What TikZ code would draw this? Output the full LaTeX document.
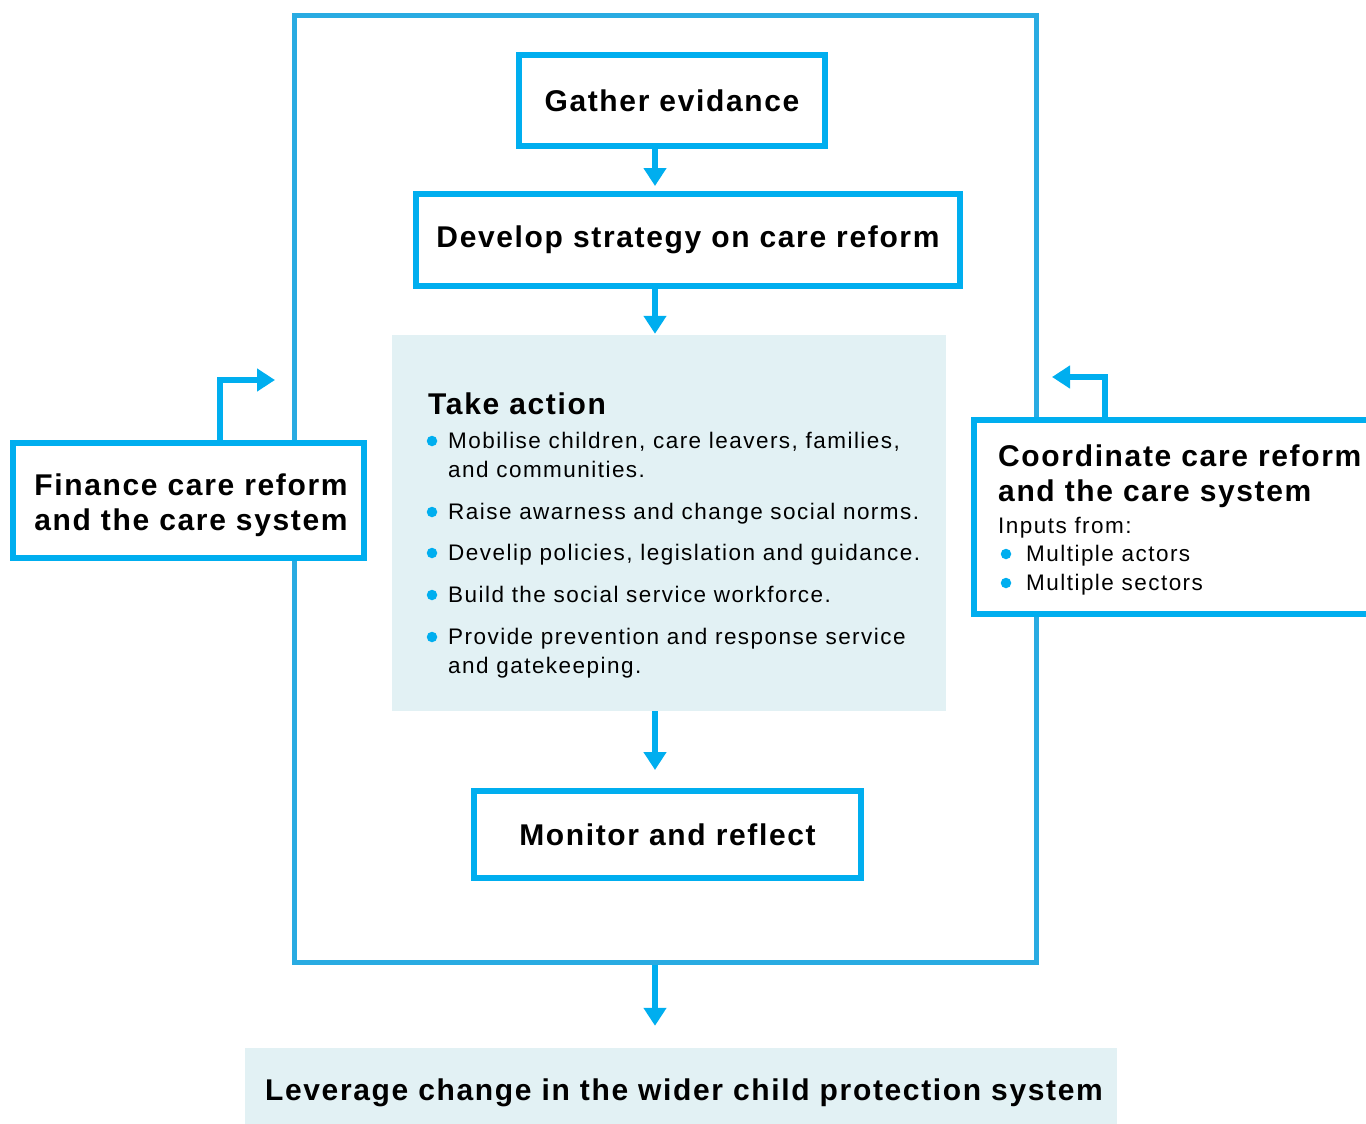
\documentclass[tikz,border=0pt]{standalone}
\usepackage{fontspec}
\setmainfont{Liberation Sans}
\newfontfamily\headfont[LetterSpace=5.5]{Liberation Sans}
\newfontfamily\bodyfont[LetterSpace=6.5]{Liberation Sans}
\usetikzlibrary{arrows.meta}
\definecolor{cyanbox}{HTML}{00AEEF}
\definecolor{framec}{HTML}{29ABE2}
\definecolor{panel}{HTML}{E2F1F4}
\tikzset{
  boxnode/.style={draw=cyanbox, line width=6pt, fill=white, inner sep=0pt, align=center,
    font=\headfont\bfseries\fontsize{30}{35}\selectfont},
  panelnode/.style={fill=panel, inner sep=0pt, align=center,
    font=\headfont\bfseries\fontsize{30}{35}\selectfont},
  headtext/.style={inner sep=0pt, anchor=base west, align=left,
    font=\headfont\bfseries\fontsize{30}{35}\selectfont},
  bodytext/.style={inner sep=0pt, anchor=base west, align=left,
    font=\bodyfont\fontsize{22.5}{29}\selectfont},
  bulletdot/.style={circle, fill=cyanbox, inner sep=0pt, minimum size=10.5pt},
  arr/.style={draw=cyanbox, line width=6pt, -{Triangle[length=18pt,width=22pt]}},
}
\begin{document}
\begin{tikzpicture}[x=1pt,y=-1pt]
\useasboundingbox (0,0) rectangle (1366,1124);
\clip (0,0) rectangle (1366,1124);

% outer frame
\node[draw=framec, line width=5pt, inner sep=0pt, minimum width=742pt, minimum height=946pt] (frame) at (665,489) {};

% main boxes
\node[boxnode, minimum width=306pt, minimum height=91pt] (gather) at (672,100.5) {Gather evidance};
\node[boxnode, minimum width=544pt, minimum height=92pt] (develop) at (688,240) {Develop strategy on care reform};
\node[panelnode, minimum width=554pt, minimum height=376pt] (action) at (669,523) {};
\node[boxnode, minimum width=387pt, minimum height=87pt] (monitor) at (667.5,834.5) {Monitor and reflect};
\node[panelnode, minimum width=872pt, minimum height=76pt] (leverage) at (681,1086) {};
\node[headtext, anchor=base, align=center] (levtext) at (684,1100) {Leverage change in the wider child protection system};

% side boxes
\node[boxnode, minimum width=351pt, minimum height=115pt] (finance) at (188.5,500.5) {};
\node[headtext, anchor=base, align=center] (fintext) at (191,530) {Finance care reform\\and the care system};
\node[boxnode, minimum width=440pt, minimum height=194pt] (coord) at (1194,517) {};

% take action text
\node[headtext] (tatitle) at (428,414) {Take action};
\node[bulletdot] (b1) at (432,441) {};
\node[bodytext] (t1) at (448,477) {Mobilise children, care leavers, families,\\and communities.};
\node[bulletdot] (b2) at (432,512) {};
\node[bodytext] (t2) at (448,519) {Raise awarness and change social norms.};
\node[bulletdot] (b3) at (432,553) {};
\node[bodytext] (t3) at (448,560) {Develip policies, legislation and guidance.};
\node[bulletdot] (b4) at (432,595) {};
\node[bodytext] (t4) at (448,602) {Build the social service workforce.};
\node[bulletdot] (b5) at (432,637) {};
\node[bodytext] (t5) at (448,673) {Provide prevention and response service\\and gatekeeping.};

% coordinate text
\node[headtext] (ctitle) at (998,501) {Coordinate care reform\\and the care system};
\node[bodytext] (cin) at (998,533) {Inputs from:};
\node[bulletdot] (cb1) at (1006,554) {};
\node[bodytext] (ct1) at (1026,561) {Multiple actors};
\node[bulletdot] (cb2) at (1006,583) {};
\node[bodytext] (ct2) at (1026,590) {Multiple sectors};

% connectors
\draw[arr, shorten >=5pt] (655,0 |- gather.south) -- (655,0 |- develop.north);
\draw[arr, shorten >=1pt] (655,0 |- develop.south) -- (655,0 |- action.north);
\draw[arr, shorten >=18pt] (655,0 |- action.south) -- (655,0 |- monitor.north);
\draw[arr, shorten >=22pt] (655,0 |- frame.south) -- (655,0 |- leverage.north);
\coordinate (lefttip) at (275,380);
\coordinate (righttip) at (1052,377);
\draw[arr] (220,0 |- finance.north) |- (lefttip);
\draw[arr] (1105,0 |- coord.north) |- (righttip);
\end{tikzpicture}
\end{document}
